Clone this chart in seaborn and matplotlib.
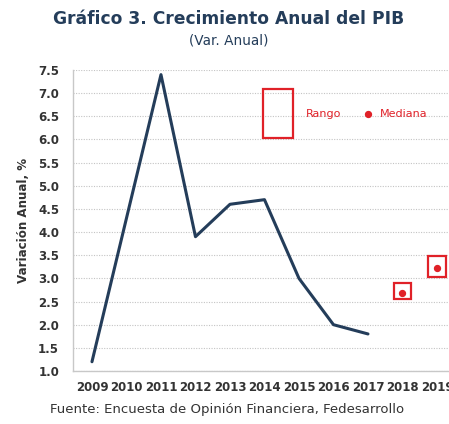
import numpy as np
import pandas as pd
import matplotlib
matplotlib.use("Agg")
import matplotlib.pyplot as plt
import seaborn as sns

# observed GDP growth
years = [2009, 2010, 2011, 2012, 2013, 2014, 2015, 2016, 2017]
growth = [1.2, 4.3, 7.4, 3.9, 4.6, 4.7, 3.0, 2.0, 1.8]

# survey expectations: range and median
exp_years = [2018, 2019]
exp_low = [2.55, 3.03]
exp_high = [2.90, 3.48]
exp_median = [2.68, 3.22]

xticks = list(range(2009, 2020))
yticks = np.arange(1.0, 7.51, 0.5)

NAVY = "#243d5a"
RED = "#e02128"
GREY = "#333333"

sns.set_theme(style="white")
plt.rcParams["font.family"] = ["DejaVu Sans"]

fig = plt.figure(figsize=(4.49, 4.24), dpi=100)
ax = fig.add_axes([73 / 449, 1 - 371 / 424, (449 - 73) / 449, (371 - 70) / 424])
ax.set_clip_on(False)

df = pd.DataFrame({"year": years, "growth": growth})
sns.lineplot(data=df, x="year", y="growth", color=NAVY, lw=2.2, ax=ax)

# range boxes + median dots
ax.bar(exp_years, np.array(exp_high) - np.array(exp_low), bottom=exp_low, width=0.5,
       fill=False, edgecolor=RED, lw=1.6, zorder=3)
ax.scatter(exp_years, exp_median, s=18, color=RED, zorder=4)

# hand-made legend
ax.bar([2014.4], [1.06], bottom=[6.03], width=0.87, fill=False, edgecolor=RED, lw=1.6)
ax.text(2015.2, 6.56, "Rango", color=RED, fontsize=8, va="center")
ax.scatter([2017.0], [6.56], s=18, color=RED)
ax.text(2017.35, 6.56, "Mediana", color=RED, fontsize=8, va="center")

ax.set_xlim(2008.45, 2008.45 + (449 - 73) / 34.5)
ax.set_ylim(1.0, 7.5)
ax.set_xticks(xticks)
ax.set_yticks(yticks)
ax.set_yticklabels([f"{v:.1f}" for v in yticks])
ax.tick_params(axis="both", length=0, labelsize=8.5, colors=GREY)
ax.tick_params(axis="x", pad=7)
ax.tick_params(axis="y", pad=10)
for lab in ax.get_xticklabels() + ax.get_yticklabels():
    lab.set_fontweight("bold")
ax.yaxis.grid(True, ls=(0, (1, 1.3)), color="#c4c4c4", lw=0.8)
ax.xaxis.grid(False)
for s in ["top", "right"]:
    ax.spines[s].set_visible(False)
for s in ["left", "bottom"]:
    ax.spines[s].set_color("#c8c8c8")
    ax.spines[s].set_linewidth(1)

ax.set_xlabel("")
ax.set_ylabel("Variación Anual, %", fontsize=8.6, fontweight="bold", color=GREY, labelpad=6)

fig.text(0.51, 0.955, "Gráfico 3. Crecimiento Anual del PIB", ha="center", va="center",
         fontsize=12.3, fontweight="bold", color=NAVY)
fig.text(0.51, 0.905, "(Var. Anual)", ha="center", va="center", fontsize=9.8, color=NAVY)
fig.text(50 / 449, 1 - 410 / 424, "Fuente: Encuesta de Opinión Financiera, Fedesarrollo",
         ha="left", va="center", fontsize=9.5, color=GREY)

fig.savefig("out.png", dpi=100)
